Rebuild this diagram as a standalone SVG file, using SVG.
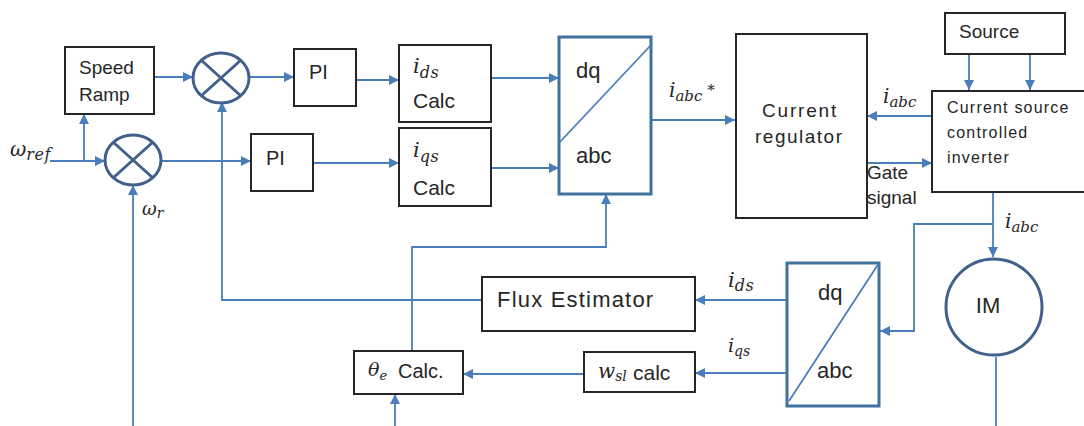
<svg xmlns="http://www.w3.org/2000/svg" width="1084" height="426" viewBox="0 0 1084 426">
<defs>
<marker id="ah" viewBox="0 0 10 10" refX="10" refY="5" markerWidth="10" markerHeight="10" markerUnits="userSpaceOnUse" orient="auto">
<path d="M0,0 L10,5 L0,10 z" fill="#4a7ebb"/>
</marker>
<style>
.box{fill:#fff;stroke:#262626;stroke-width:2}
.cv{fill:#fff;stroke:#41719c;stroke-width:3}
.sum{fill:none;stroke:#41618c;stroke-width:3}
.ln{fill:none;stroke:#4a7ebb;stroke-width:1.8}
.ar{fill:none;stroke:#4a7ebb;stroke-width:1.8;marker-end:url(#ah)}
.t{font-family:"Liberation Sans",Arial,sans-serif;fill:#262626}
.m{font-family:"DejaVu Serif","Liberation Serif",serif;font-style:italic;fill:#262626}
</style>
</defs>
<rect width="1084" height="426" fill="#fff"/>
<g id="connectors">
<path class="ar" d="M50,161 H105"/>
<path class="ar" d="M84,161 V114"/>
<path class="ar" d="M154,77 H193"/>
<path class="ar" d="M250,77 H294"/>
<path class="ar" d="M162,161 H251"/>
<path class="ar" d="M133,426 V185"/>
<path class="ar" d="M482,300 H222 V102"/>
<path class="ar" d="M356,80 H399"/>
<path class="ar" d="M313,163 H399"/>
<path class="ar" d="M491,78 H559"/>
<path class="ar" d="M491,168 H559"/>
<path class="ar" d="M651,120 H735"/>
<path class="ar" d="M412,351 V247 H606 V194"/>
<path class="ar" d="M969,54 V90"/>
<path class="ar" d="M1030,54 V90"/>
<path class="ar" d="M932,116 H867"/>
<path class="ar" d="M867,163 H932"/>
<path class="ar" d="M993,192 V257"/>
<path class="ar" d="M993,224 H914 V331 H880"/>
<path class="ln" d="M996,357 V426"/>
<path class="ar" d="M787,300 H695"/>
<path class="ar" d="M787,373 H695"/>
<path class="ar" d="M584,374 H463"/>
<path class="ar" d="M395,426 V394"/>
</g>
<g id="speed-ramp"><rect class="box" x="65" y="47" width="89" height="67"/><text class="t" x="79" y="74" font-size="19">Speed</text><text class="t" x="79" y="101" font-size="19">Ramp</text></g>
<g id="sum-top"><ellipse class="sum" cx="221" cy="78" rx="28" ry="25"/><path class="sum" d="M201,60 L241,96 M241,60 L201,96"/></g>
<g id="sum-bottom"><ellipse class="sum" cx="133" cy="160" rx="28" ry="25"/><path class="sum" d="M113,142 L153,178 M153,142 L113,178"/></g>
<g id="pi-top"><rect class="box" x="294" y="49" width="62" height="57"/><text class="t" x="309" y="79" font-size="20">PI</text></g>
<g id="pi-bottom"><rect class="box" x="251" y="134" width="62" height="57"/><text class="t" x="266" y="165" font-size="20">PI</text></g>
<g id="ids-calc"><rect class="box" x="399" y="45" width="92" height="77"/><text class="m" x="413" y="73" font-size="21">i<tspan font-size="16" dy="5" letter-spacing="0.5">ds</tspan></text><text class="t" x="413" y="108" font-size="21">Calc</text></g>
<g id="iqs-calc"><rect class="box" x="399" y="128" width="92" height="78"/><text class="m" x="413" y="157" font-size="21">i<tspan font-size="16" dy="5" letter-spacing="0.5">qs</tspan></text><text class="t" x="413" y="195" font-size="21">Calc</text></g>
<g id="dq-abc-top"><rect class="cv" x="559" y="37" width="92" height="157"/><path class="ln" d="M559,143 L651,45"/><text class="t" x="576" y="78" font-size="22">dq</text><text class="t" x="576" y="163" font-size="22">abc</text></g>
<g id="current-regulator"><rect class="box" x="736" y="34" width="131" height="184"/><text class="t" x="762" y="117" font-size="19" letter-spacing="1.8">Current</text><text class="t" x="755" y="143" font-size="19" letter-spacing="1.5">regulator</text></g>
<g id="source"><rect class="box" x="945" y="13" width="120" height="41"/><text class="t" x="959" y="38" font-size="19">Source</text></g>
<g id="inverter"><rect class="box" x="932" y="91" width="160" height="101"/><text class="t" x="947" y="113" font-size="16" letter-spacing="1.2">Current source</text><text class="t" x="947" y="138" font-size="16" letter-spacing="1.2">controlled</text><text class="t" x="947" y="163" font-size="16" letter-spacing="1.2">inverter</text></g>
<g id="im"><circle class="sum" cx="994" cy="307" r="48"/><text class="t" x="988" y="313" font-size="22" text-anchor="middle">IM</text></g>
<g id="dq-abc-bottom"><rect class="cv" x="787" y="263" width="92" height="143"/><path class="ln" d="M789,401 L879,263"/><text class="t" x="818" y="300" font-size="22">dq</text><text class="t" x="817" y="378" font-size="22">abc</text></g>
<g id="flux-estimator"><rect class="box" x="482" y="277" width="213" height="54"/><text class="t" x="497" y="307" font-size="22" letter-spacing="1.2">Flux Estimator</text></g>
<g id="wsl-calc"><rect class="box" x="584" y="352" width="111" height="40"/><text class="m" x="598" y="378" font-size="20">w<tspan font-size="14" dy="3">sl</tspan></text><text class="t" x="633" y="380" font-size="21">calc</text></g>
<g id="theta-calc"><rect class="box" x="354" y="351" width="109" height="43"/><text class="m" x="368" y="376" font-size="19">θ<tspan font-size="13" dy="4">e</tspan></text><text class="t" x="398" y="378" font-size="20">Calc.</text></g>
<g id="labels">
<text class="m" x="10" y="156" font-size="20">ω<tspan font-size="16" dy="4" letter-spacing="0.5">ref</tspan></text>
<text class="m" x="142" y="215" font-size="18">ω<tspan font-size="14" dy="3">r</tspan></text>
<text class="m" x="669" y="97" font-size="20">i<tspan font-size="15" dy="4">abc</tspan><tspan font-style="normal" font-size="15" dy="-6"> *</tspan></text>
<text class="m" x="883" y="103" font-size="20">i<tspan font-size="15" dy="4">abc</tspan></text>
<text class="t" x="867" y="179" font-size="19">Gate</text>
<text class="t" x="867" y="204" font-size="19">signal</text>
<text class="m" x="1005" y="228" font-size="20">i<tspan font-size="15" dy="4">abc</tspan></text>
<text class="m" x="728" y="287" font-size="21">i<tspan font-size="16" dy="4" letter-spacing="0.5">ds</tspan></text>
<text class="m" x="728" y="352" font-size="19">i<tspan font-size="14" dy="4">qs</tspan></text>
</g>
</svg>
